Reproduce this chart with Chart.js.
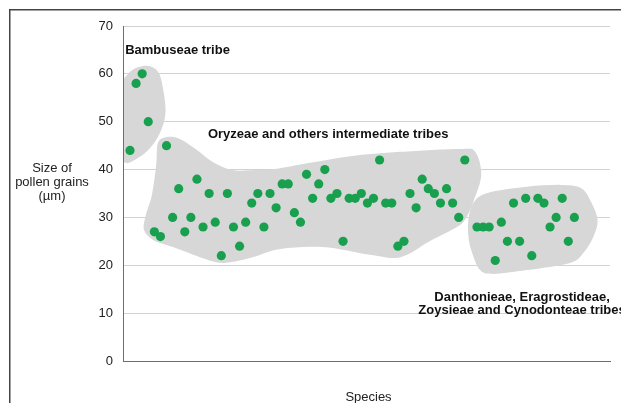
<!DOCTYPE html>
<html>
<head>
<meta charset="utf-8">
<script src="https://cdn.jsdelivr.net/npm/chart.js@4"></script>
<style>
  body { margin: 0; background: #fff; }
  #chartBox { width: 621px; height: 403px; }
</style>
</head>
<body>
<div id="chartBox"><canvas id="pollenChart" width="621" height="403"></canvas></div>
<script>
// ========================= data (species index / pollen size in um)

const bambuseaeSpecies = [1, 2, 3, 4];
const bambuseaeSize = [44, 58, 60, 50];

const oryzeaeSpecies = [5, 6, 7, 8, 9, 10, 11, 12, 13, 14, 15, 16, 17, 18, 19, 20, 21, 22, 23, 24, 25, 26,
  27, 28, 29, 30, 31, 32, 33, 34, 35, 36, 37, 38, 39, 40, 41, 42, 43, 44, 45, 46, 47, 48, 49, 50, 51, 52,
  53, 54, 55, 56];
const oryzeaeSize = [27, 26, 45, 30, 36, 27, 30, 38, 28, 35, 29, 22, 35, 28, 24, 29, 33, 35, 28, 35, 32, 37,
  37, 31, 29, 39, 34, 37, 40, 34, 35, 25, 34, 34, 35, 33, 34, 42, 33, 33, 24, 25, 35, 32, 38, 36, 35, 33,
  36, 33, 30, 42];

const danthonieaeSpecies = [58, 59, 60, 61, 62, 63, 64, 65, 66, 67, 68, 69, 70, 71, 72, 73, 74];
const danthonieaeSize = [28, 28, 28, 21, 29, 25, 33, 25, 34, 22, 34, 33, 28, 30, 34, 25, 30];

const yTicks = [0, 10, 20, 30, 40, 50, 60, 70];

// grey group outlines, [species, size] pairs
const bambuseaeBlob = [[-0.5, 56.6], [0.7, 60.0], [2.3, 61.4], [4.3, 61.6], [5.8, 60.0], [6.6, 55.6],
  [6.8, 51.4], [5.9, 47.6], [4.3, 44.5], [2.3, 42.4], [0.3, 41.4], [-0.5, 44.1]];
const oryzeaeBlob = [[5.6, 45.6], [7.1, 46.8], [9.2, 46.4], [12.0, 44.1], [14.6, 41.6], [17.8, 39.9],
  [21.5, 39.9], [24.8, 40.1], [30.6, 41.4], [37.2, 42.8], [45.4, 43.7], [55.2, 44.3], [57.7, 43.7],
  [58.7, 38.9], [57.5, 33.6], [56.2, 29.9], [54.7, 28.0], [50.3, 25.1], [45.4, 21.7], [40.4, 22.2],
  [32.7, 23.8], [25.7, 23.4], [20.7, 21.5], [16.3, 20.5], [12.5, 21.7], [8.1, 23.8], [4.8, 25.3],
  [3.3, 27.4], [3.6, 30.5], [4.6, 34.7], [5.3, 41.0]];
const danthonieaeBlob = [[56.6, 29.5], [57.4, 33.0], [59.7, 35.1], [66.2, 36.4], [71.7, 36.8], [75.0, 36.2],
  [76.6, 33.6], [77.8, 29.5], [77.1, 25.9], [75.5, 22.6], [73.3, 20.5], [66.2, 19.0], [60.7, 18.2],
  [58.5, 19.0], [57.2, 22.6], [56.6, 25.9]];

const groupLabels = [
  { lines: ['Bambuseae tribe'], x: 0.2, y: 64.8, align: 'left' },
  { lines: ['Oryzeae and others intermediate tribes'], x: 13.8, y: 47.4, align: 'left' },
  { lines: ['Danthonieae, Eragrostideae,', 'Zoysieae and Cynodonteae tribes'], x: 65.4, y: 13.3, align: 'center' }
];

const dotColor = '#18a04f';
const fontFamily = "'Liberation Sans', Arial, Helvetica, sans-serif";

function toPoints(xs, ys){
  return xs.map(function(x, i){ return { x: x, y: ys[i] }; });
}

// ========================= plugins

function blobPath(ctx, pts){
  let n = pts.length;
  ctx.beginPath();
  ctx.moveTo(pts[0][0], pts[0][1]);
  for (let i = 0; i < n; i++) {
    let p0 = pts[(i - 1 + n) % n];
    let p1 = pts[i];
    let p2 = pts[(i + 1) % n];
    let p3 = pts[(i + 2) % n];
    ctx.bezierCurveTo(
      p1[0] + (p2[0] - p0[0]) / 6, p1[1] + (p2[1] - p0[1]) / 6,
      p2[0] - (p3[0] - p1[0]) / 6, p2[1] - (p3[1] - p1[1]) / 6,
      p2[0], p2[1]
    );
  }
  ctx.closePath();
}

const blobPlugin = {
  id: 'groupBlobs',
  beforeDatasetsDraw(chart){
    const ctx = chart.ctx;
    const xs = chart.scales.x;
    const ys = chart.scales.y;
    const area = chart.chartArea;
    ctx.save();
    ctx.beginPath();
    ctx.rect(area.left + 1, area.top - 40, area.right - area.left + 20, area.bottom - area.top + 40);
    ctx.clip();
    ctx.fillStyle = '#d7d7d7';
    [bambuseaeBlob, oryzeaeBlob, danthonieaeBlob].forEach(function(blob){
      let pts = blob.map(function(p){ return [xs.getPixelForValue(p[0]), ys.getPixelForValue(p[1])]; });
      blobPath(ctx, pts);
      ctx.fill();
    });
    ctx.restore();
  }
};

const textPlugin = {
  id: 'chartTexts',
  afterDraw(chart){
    const ctx = chart.ctx;
    const xs = chart.scales.x;
    const ys = chart.scales.y;
    const area = chart.chartArea;
    ctx.save();

    // group names
    ctx.fillStyle = '#111';
    ctx.font = 'bold 13px ' + fontFamily;
    ctx.textBaseline = 'middle';
    groupLabels.forEach(function(lbl){
      ctx.textAlign = lbl.align;
      let px = xs.getPixelForValue(lbl.x);
      let py = ys.getPixelForValue(lbl.y);
      lbl.lines.forEach(function(line, i){
        ctx.fillText(line, px, py + i * 13.5);
      });
    });

    // axis titles
    ctx.font = '13px ' + fontFamily;
    ctx.fillStyle = '#222';
    ctx.textAlign = 'center';
    ['Size of', 'pollen grains', '(\u00b5m)'].forEach(function(line, i){
      ctx.fillText(line, 52, 168 + i * 14);
    });
    ctx.fillText('Species', (area.left + area.right) / 2 + 2, 397);

    // outer frame
    ctx.strokeStyle = '#444';
    ctx.lineWidth = 1.5;
    ctx.beginPath();
    ctx.moveTo(9.75, 403);
    ctx.lineTo(9.75, 9.75);
    ctx.lineTo(621, 9.75);
    ctx.stroke();
    ctx.restore();
  }
};

// ========================= chart

const dotStyle = {
  backgroundColor: dotColor,
  borderWidth: 0,
  pointRadius: 4.6,
  pointHoverRadius: 4.6
};

const pollenData = {
  datasets: [
    Object.assign({ label: 'Bambuseae', data: toPoints(bambuseaeSpecies, bambuseaeSize) }, dotStyle),
    Object.assign({ label: 'Oryzeae', data: toPoints(oryzeaeSpecies, oryzeaeSize) }, dotStyle),
    Object.assign({ label: 'Danthonieae', data: toPoints(danthonieaeSpecies, danthonieaeSize) }, dotStyle)
  ]
};

const pollenConfig = {
  type: 'scatter',
  data: pollenData,
  options: {
    responsive: false,
    animation: false,
    layout: { padding: { top: 26, right: 11, left: 0, bottom: 0 } },
    plugins: {
      legend: { display: false },
      tooltip: { enabled: false }
    },
    scales: {
      x: {
        type: 'linear',
        min: -0.15,
        max: 79.85,
        grid: { display: false, drawTicks: false },
        border: { display: true, color: '#6e6e6e', width: 1 },
        ticks: { display: false },
        afterFit: function(scale){ scale.height = 42; }
      },
      y: {
        min: 0,
        max: 70,
        afterBuildTicks: function(scale){
          scale.ticks = yTicks.map(function(v){ return { value: v }; });
        },
        grid: {
          color: function(c){ return c.tick && c.tick.value === 0 ? 'rgba(0,0,0,0)' : '#d2d2d2'; },
          drawTicks: false
        },
        border: { display: true, color: '#6e6e6e', width: 1 },
        ticks: {
          padding: 10,
          color: '#222',
          font: { size: 13, family: fontFamily }
        },
        afterFit: function(scale){ scale.width = 123; }
      }
    }
  },
  plugins: [blobPlugin, textPlugin]
};

const pollenChart = new Chart(
  document.getElementById('pollenChart'),
  pollenConfig
);
</script>
</body>
</html>
